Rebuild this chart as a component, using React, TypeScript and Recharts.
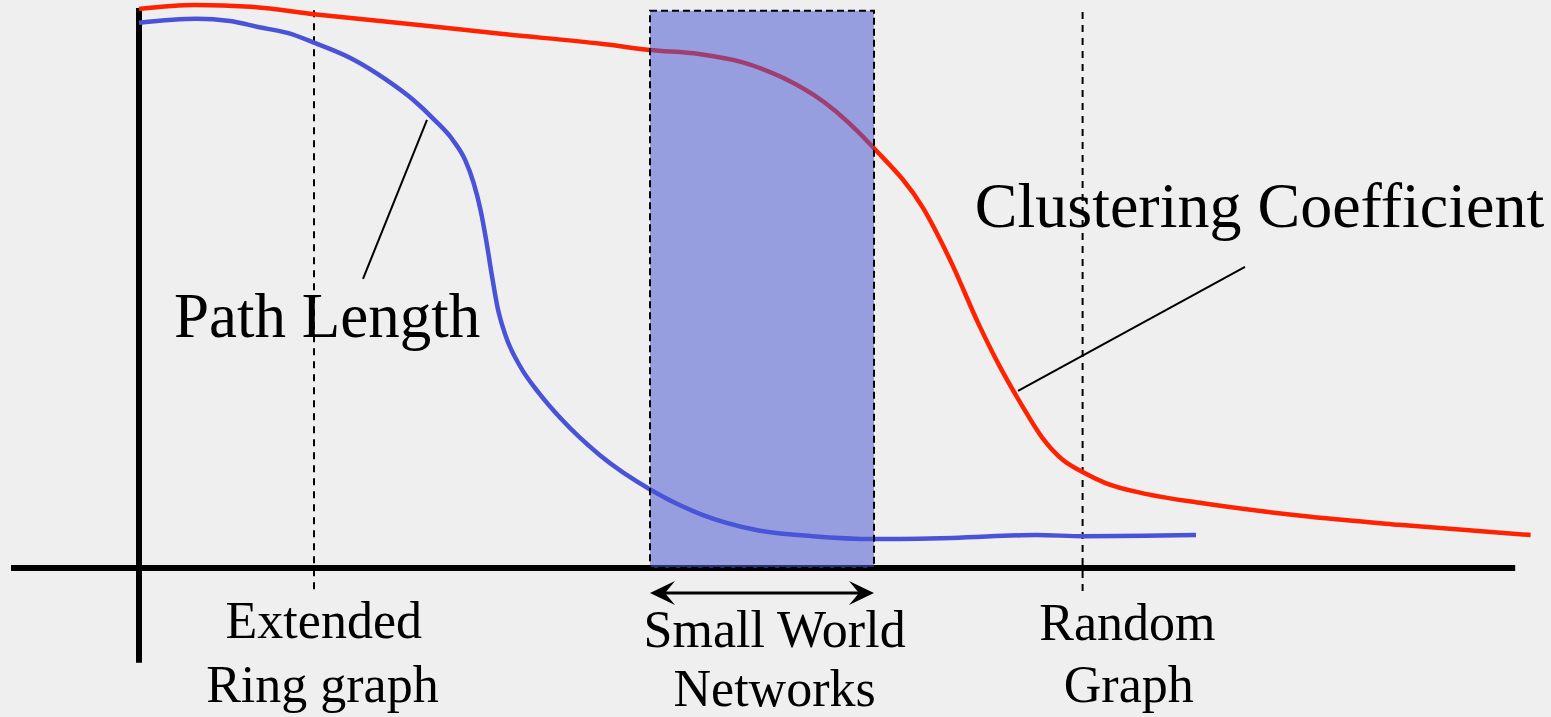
import { ComposedChart, Line, XAxis, YAxis, ReferenceArea, ReferenceLine, ReferenceDot } from 'recharts'

const FONT = '"Liberation Serif", "Times New Roman", Times, serif'

// x: rewiring amount (0..100), y: normalised value (0..1)
const clusterX = [0, 4, 8, 12.5, 20, 26, 33, 36.5, 40, 43, 46, 49, 52.5, 56, 58, 60, 61.5, 63, 64.5, 66, 67.4, 69, 72, 76, 83, 90, 99.4]
const clusterY = [0.984, 0.991, 0.988, 0.975, 0.956, 0.94, 0.923, 0.912, 0.905, 0.891, 0.863, 0.819, 0.739, 0.634, 0.539, 0.428, 0.354, 0.289, 0.23, 0.19, 0.169, 0.15, 0.13, 0.114, 0.092, 0.076, 0.058]

const pathX = [0, 4.1, 6.5, 8.6, 10.6, 12.6, 15.1, 17.7, 19.6, 21.1, 22.4, 23.3, 23.9, 24.4, 24.8, 25.2, 25.6, 26.2, 27.2, 28.6, 30.1, 32.9, 36.6, 40.1, 44.1, 48.1, 52.6, 58.1, 64.1, 67.5, 75.5]
const pathY = [0.96, 0.967, 0.963, 0.952, 0.942, 0.924, 0.898, 0.859, 0.824, 0.789, 0.754, 0.718, 0.678, 0.63, 0.577, 0.516, 0.46, 0.408, 0.356, 0.307, 0.264, 0.199, 0.137, 0.095, 0.067, 0.056, 0.051, 0.053, 0.058, 0.056, 0.058]

// regimes
const ringX = 12.5
const randomX = 67.4
const smallWorld = [36.5, 52.5]

const bottomLabels = [
  { text: 'Extended', x: 13.2, y: -0.123 },
  { text: 'Ring graph', x: 13.1, y: -0.236 },
  { text: 'Small World', x: 45.4, y: -0.139 },
  { text: 'Networks', x: 45.4, y: -0.243 },
  { text: 'Random', x: 70.6, y: -0.127 },
  { text: 'Graph', x: 70.7, y: -0.236 },
]

const clusterData = clusterX.map((x, i) => ({ x, y: clusterY[i] }))
const pathData = pathX.map((x, i) => ({ x, y: pathY[i] }))

const textShape = (text: string, anchor: string, size: number) => (p: any) => (
  <text x={p.cx} y={p.cy} textAnchor={anchor} fontSize={size} fontFamily={FONT} fill="#000">
    {text}
  </text>
)

function Arrow(p: any) {
  const { x1, y1, x2, y2 } = p
  const len = 25
  const half = 12
  const notch = 15
  return (
    <g>
      <line x1={x1 + notch} y1={y1} x2={x2 - notch} y2={y2} stroke="#000" strokeWidth={3} />
      <path d={`M${x1},${y1} L${x1 + len},${y1 - half} L${x1 + notch},${y1} L${x1 + len},${y1 + half} Z`} fill="#000" />
      <path d={`M${x2},${y2} L${x2 - len},${y2 - half} L${x2 - notch},${y2} L${x2 - len},${y2 + half} Z`} fill="#000" />
    </g>
  )
}

export default function App() {
  return (
    <div style={{ position: 'absolute', left: 0, top: 0, width: 1551, height: 717, background: '#efefef' }}>
      <ComposedChart width={1551} height={717} margin={{ top: 0, right: 12, bottom: 149, left: 139 }}>
        <XAxis type="number" dataKey="x" domain={[0, 100]} hide />
        <YAxis type="number" domain={[0, 1]} hide />

        {/* axes */}
        <ReferenceLine segment={[{ x: -9.14, y: 0 }, { x: 98.3, y: 0 }]} stroke="#000" strokeWidth={6} ifOverflow="visible" />
        <ReferenceLine segment={[{ x: 0, y: 0.986 }, { x: 0, y: -0.167 }]} stroke="#000" strokeWidth={6} ifOverflow="visible" />

        {/* regime markers */}
        <ReferenceLine segment={[{ x: ringX, y: 0.982 }, { x: ringX, y: -0.039 }]} stroke="#000" strokeWidth={2} strokeDasharray="7 6" ifOverflow="visible" />
        <ReferenceLine segment={[{ x: randomX, y: 0.979 }, { x: randomX, y: -0.044 }]} stroke="#000" strokeWidth={2} strokeDasharray="7 6" ifOverflow="visible" />

        <Line data={pathData} dataKey="y" type="monotone" stroke="#4a52d8" strokeWidth={4.5} dot={false} activeDot={false} isAnimationActive={false} />
        <Line data={clusterData} dataKey="y" type="monotone" stroke="#ff2200" strokeWidth={4.5} dot={false} activeDot={false} isAnimationActive={false} />

        <ReferenceArea
          x1={smallWorld[0]}
          x2={smallWorld[1]}
          y1={0}
          y2={0.981}
          fill="#4957d3"
          fillOpacity={0.53}
          stroke="#000"
          strokeWidth={2}
          strokeDasharray="7 4"
          ifOverflow="visible"
          zIndex={450}
        />

        <ReferenceLine segment={[{ x: smallWorld[0], y: -0.044 }, { x: smallWorld[1], y: -0.044 }]} ifOverflow="visible" shape={Arrow} zIndex={600} />

        {/* leader lines */}
        <ReferenceLine segment={[{ x: 20.57, y: 0.789 }, { x: 16, y: 0.509 }]} stroke="#000" strokeWidth={2} ifOverflow="visible" zIndex={600} />
        <ReferenceLine segment={[{ x: 62.79, y: 0.312 }, { x: 79, y: 0.53 }]} stroke="#000" strokeWidth={2} ifOverflow="visible" zIndex={600} />

        <ReferenceDot x={2.5} y={0.407} ifOverflow="visible" shape={textShape('Path Length', 'start', 63)} zIndex={600} />
        <ReferenceDot x={59.7} y={0.6} ifOverflow="visible" shape={textShape('Clustering Coefficient', 'start', 64)} zIndex={600} />

        {bottomLabels.map((l) => (
          <ReferenceDot key={l.text} x={l.x} y={l.y} ifOverflow="visible" shape={textShape(l.text, 'middle', 52)} zIndex={600} />
        ))}
      </ComposedChart>
    </div>
  )
}
